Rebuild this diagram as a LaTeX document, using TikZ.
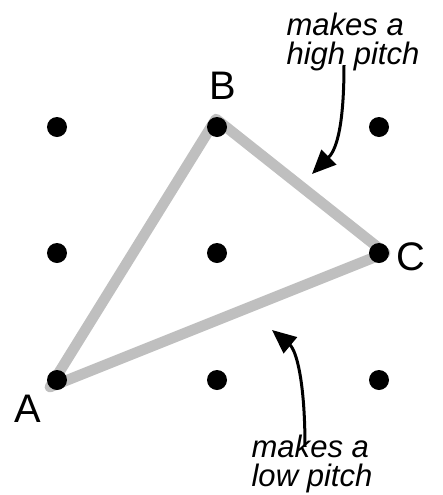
\documentclass[tikz,border=0pt]{standalone}
\usepackage{fontspec}
\setmainfont{Liberation Sans}
\usetikzlibrary{arrows.meta,positioning}

\begin{document}
\begin{tikzpicture}[
    x=0.03cm, y=-0.03cm,
    grid_dot/.style={circle, fill=black, inner sep=0pt, minimum size=0.6cm},
    corner_label/.style={font=\fontsize{34}{34}\selectfont, inner sep=0pt},
    note_text/.style={font=\fontsize{26.5}{24.5}\selectfont\itshape, align=left, inner sep=0pt},
    path_line/.style={draw=gray!50, line width=0.32cm, line join=round},
    pitch_arrow/.style={line width=0.09cm, -{Triangle[length=0.72cm, width=0.62cm]}}
]
\useasboundingbox (0,0) rectangle (443,495);

% triangle corners
\coordinate (cA) at (50,387);
\coordinate (cB) at (216,119);
\coordinate (cC) at (385,253);
\draw[path_line] (cA) -- (cB) -- (cC) -- cycle;

% grid of dots
\foreach \r/\y in {1/127, 2/253, 3/380}
  \foreach \c/\x in {1/57, 2/217, 3/379}
    \node[grid_dot] (d\r\c) at (\x,\y) {};

% corner labels
\node[corner_label] (lB) at (223,86) {B};
\node[corner_label] (lC) at (411,257) {C};
\node[corner_label] (lA) at (28,409) {A};

% notes
\node[note_text] (high) at (353,42) {makes a\\high pitch};
\node[note_text] (low) at (312,464) {makes a\\low pitch};

\coordinate (tipHigh) at (312,174);
\coordinate (tipLow) at (272,330);

\draw[pitch_arrow] ([shift={(-9,-6)}]high.south) .. controls (344,135) and (334,152) .. (tipHigh);
\draw[pitch_arrow] ([shift={(-7,12)}]low.north) .. controls (305,380) and (296,350) .. (tipLow);

\end{tikzpicture}
\end{document}
